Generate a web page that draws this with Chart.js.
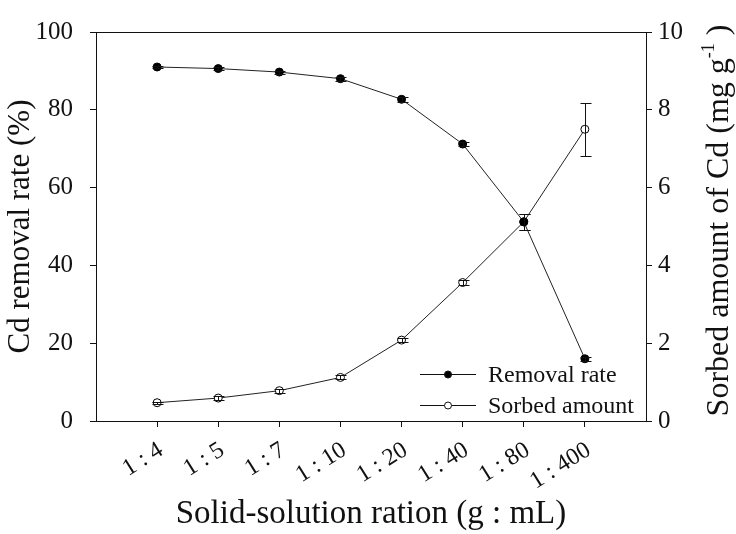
<!DOCTYPE html>
<html><head><meta charset="utf-8">
<script src="https://cdn.jsdelivr.net/npm/chart.js@4.4.0/dist/chart.umd.min.js"></script>
<style>html,body{margin:0;padding:0;background:#fff}#wrap{width:736px;height:534px}</style>
</head><body><div id="wrap"><canvas id="c" width="736" height="534"></canvas></div>
<script>
const categories = ['1 : 4', '1 : 5', '1 : 7', '1 : 10', '1 : 20', '1 : 40', '1 : 80', '1 : 400'];
const removalRate = [91.0, 90.6, 89.7, 88.0, 82.7, 71.2, 51.2, 16.0];
const removalErr = [0.3, 0.4, 0.4, 0.5, 0.6, 0.6, 2.0, 0.5];
const sorbedAmount = [0.47, 0.59, 0.78, 1.12, 2.08, 3.56, 5.12, 7.5];
const sorbedErr = [0.03, 0.04, 0.05, 0.05, 0.06, 0.06, 0.2, 0.68];
const leftTicks = [0, 20, 40, 60, 80, 100];
const rightTicks = [0, 2, 4, 6, 8, 10];
const seriesNames = ['Removal rate', 'Sorbed amount'];
const xTitle = 'Solid-solution ration (g : mL)';
const leftTitle = 'Cd removal rate (%)';
const rightTitleParts = ['Sorbed amount of Cd (mg g', '-1', ' )'];

const FONT = '"Liberation Serif", "Times New Roman", serif';
const INK = '#111';

const framePlugin = {
  id: 'frame',
  afterDraw(chart) {
    const {ctx, chartArea: a} = chart;
    ctx.save();
    ctx.strokeStyle = INK; ctx.lineWidth = 1;
    ctx.strokeRect(Math.round(a.left) + 0.5, Math.round(a.top) + 0.5, Math.round(a.right - a.left), Math.round(a.bottom - a.top));
    ctx.restore();
  }
};

const errorBarPlugin = {
  id: 'errbars',
  afterDatasetsDraw(chart) {
    const ctx = chart.ctx;
    chart.data.datasets.forEach((ds, di) => {
      if (!ds.errors) return;
      const ys = chart.scales[ds.yAxisID];
      const xs = chart.scales.x;
      ctx.save();
      ctx.strokeStyle = INK; ctx.lineWidth = 1;
      ds.data.forEach((p, i) => {
        const e = ds.errors[i];
        const x = Math.round(xs.getPixelForValue(p.x)) + 0.5;
        const y1 = Math.round(ys.getPixelForValue(p.y + e)) + 0.5;
        const y2 = Math.round(ys.getPixelForValue(p.y - e)) + 0.5;
        ctx.beginPath();
        ctx.moveTo(x, y1); ctx.lineTo(x, y2);
        ctx.moveTo(x - 5, y1); ctx.lineTo(x + 6, y1);
        ctx.moveTo(x - 5, y2); ctx.lineTo(x + 6, y2);
        ctx.stroke();
      });
      ctx.restore();
    });
  }
};

const legendPlugin = {
  id: 'innerLegend',
  afterDraw(chart) {
    const {ctx, chartArea: a} = chart;
    ctx.save();
    ctx.font = '24px ' + FONT;
    ctx.fillStyle = INK; ctx.strokeStyle = INK; ctx.lineWidth = 1;
    ctx.textBaseline = 'middle'; ctx.textAlign = 'left';
    chart.data.datasets.forEach((ds, i) => {
      const y = a.bottom - 47 + i * 31 + 0.5;
      const x0 = a.left + 324, x1 = a.left + 380, xm = (x0 + x1) / 2;
      ctx.beginPath(); ctx.moveTo(x0, y); ctx.lineTo(x1, y); ctx.stroke();
      ctx.beginPath(); ctx.arc(xm, y, 3.5, 0, Math.PI * 2);
      ctx.fillStyle = ds.pointBackgroundColor; ctx.fill(); ctx.stroke();
      ctx.fillStyle = INK;
      ctx.fillText(ds.label, a.left + 392, y + 1);
    });
    ctx.restore();
  }
};

const rightTitlePlugin = {
  id: 'rightTitle',
  afterDraw(chart) {
    const {ctx, chartArea: a} = chart;
    ctx.save();
    const big = '32px ' + FONT, small = '18px ' + FONT;
    ctx.font = big; const w0 = ctx.measureText(rightTitleParts[0]).width;
    const w2 = ctx.measureText(rightTitleParts[2]).width;
    ctx.font = small; const w1 = ctx.measureText(rightTitleParts[1]).width;
    const total = w0 + w1 + w2;
    ctx.translate(720, (a.top + a.bottom) / 2 - 6);
    ctx.rotate(-Math.PI / 2);
    ctx.fillStyle = INK; ctx.textBaseline = 'middle'; ctx.textAlign = 'left';
    let x = -total / 2;
    ctx.font = big; ctx.fillText(rightTitleParts[0], x, 0); x += w0;
    ctx.font = small; ctx.fillText(rightTitleParts[1], x, -11); x += w1;
    ctx.font = big; ctx.fillText(rightTitleParts[2], x, 0);
    ctx.restore();
  }
};

new Chart(document.getElementById('c'), {
  type: 'line',
  data: {
    datasets: [
      {
        label: seriesNames[0],
        data: removalRate.map((v, i) => ({x: i + 1, y: v})),
        errors: removalErr,
        yAxisID: 'y',
        borderColor: '#222', borderWidth: 1,
        pointRadius: 4, pointBackgroundColor: '#000', pointBorderColor: '#000', pointBorderWidth: 1,
        tension: 0, fill: false
      },
      {
        label: seriesNames[1],
        data: sorbedAmount.map((v, i) => ({x: i + 1, y: v})),
        errors: sorbedErr,
        yAxisID: 'y2',
        borderColor: '#222', borderWidth: 1,
        pointRadius: 4, pointBackgroundColor: '#fff', pointBorderColor: '#000', pointBorderWidth: 1,
        tension: 0, fill: false
      }
    ]
  },
  options: {
    responsive: false,
    animation: false,
    devicePixelRatio: 1,
    layout: {padding: {top: 25, left: 0, right: 0, bottom: 0}},
    plugins: {legend: {display: false}, tooltip: {enabled: false}},
    scales: {
      x: {
        type: 'linear', min: 0, max: categories.length + 1,
        afterBuildTicks: s => { s.ticks = categories.map((c, i) => ({value: i + 1})); },
        afterFit: s => { s.height = 113; },
        grid: {drawOnChartArea: false, drawTicks: true, tickLength: 6, color: INK},
        border: {display: true, color: INK},
        ticks: {
          autoSkip: false, minRotation: 32, maxRotation: 32, padding: 9, labelOffset: 4,
          color: INK, font: {family: FONT, size: 24},
          callback: v => categories[v - 1]
        },
        title: {display: true, text: xTitle, color: INK, font: {family: FONT, size: 33}, padding: {top: 0, bottom: 0}}
      },
      y: {
        type: 'linear', position: 'left', min: 0, max: 100,
        afterBuildTicks: s => { s.ticks = leftTicks.map(v => ({value: v})); },
        afterFit: s => { s.width = 96; },
        grid: {drawOnChartArea: false, drawTicks: true, tickLength: 6, color: INK},
        border: {display: true, color: INK},
        ticks: {padding: 17, color: INK, font: {family: FONT, size: 25}},
        title: {display: true, text: leftTitle, color: INK, font: {family: FONT, size: 31}, padding: {top: 2, bottom: 0}}
      },
      y2: {
        type: 'linear', position: 'right', min: 0, max: 10,
        afterBuildTicks: s => { s.ticks = rightTicks.map(v => ({value: v})); },
        afterFit: s => { s.width = 90; },
        grid: {drawOnChartArea: false, drawTicks: true, tickLength: 6, color: INK},
        border: {display: true, color: INK},
        ticks: {padding: 6, color: INK, font: {family: FONT, size: 25}}
      }
    }
  },
  plugins: [framePlugin, errorBarPlugin, legendPlugin, rightTitlePlugin]
});
</script>
</body></html>
